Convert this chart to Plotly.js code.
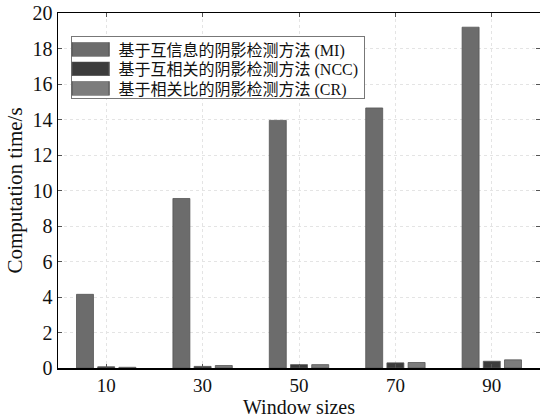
<!DOCTYPE html>
<html>
<head>
<meta charset="utf-8">
<script src="https://cdn.plot.ly/plotly-3.0.1.min.js"></script>
<style>html,body{margin:0;padding:0;background:#fff;}#chart{width:540px;height:418px;}</style>
</head>
<body>
<div id="chart"></div>
<script>
const windowSizes = [10, 30, 50, 70, 90];
const miTimes = [4.15, 9.55, 13.95, 14.65, 19.2];
const nccTimes = [0.07, 0.09, 0.19, 0.29, 0.38];
const crTimes = [0.04, 0.14, 0.19, 0.31, 0.46];
const seriesNames = ['基于互信息的阴影检测方法 (MI)', '基于互相关的阴影检测方法 (NCC)', '基于相关比的阴影检测方法 (CR)'];
const seriesColors = ['#6c6c6c', '#3c3c3c', '#7c7c7c'];
const yTicks = [0, 2, 4, 6, 8, 10, 12, 14, 16, 18, 20];

const font = 'Liberation Serif, Times New Roman, Noto Sans CJK SC, serif';
const data = [miTimes, nccTimes, crTimes].map((vals, i) => ({
  type: 'bar',
  x: windowSizes,
  y: vals,
  name: seriesNames[i],
  marker: {color: seriesColors[i], line: {color: '#555', width: 0.8}}
}));

const layout = {
  width: 540, height: 418,
  margin: {l: 58, r: 0, t: 13, b: 50},
  paper_bgcolor: '#fff', plot_bgcolor: '#fff',
  barmode: 'group', bargap: 0.34, bargroupgap: 0.2,
  font: {family: font, color: '#111', size: 20},
  showlegend: true,
  legend: {
    x: 0.026, y: 0.934, xanchor: 'left', yanchor: 'top',
    bgcolor: '#fff', bordercolor: '#777', borderwidth: 1,
    font: {family: font, size: 16, color: '#111'},
    itemwidth: 37, tracegroupgap: 0
  },
  xaxis: {
    range: [0, 100], tickvals: windowSizes, ticktext: windowSizes.map(String),
    showline: true, linecolor: '#000', linewidth: 1.5, mirror: 'ticks',
    ticks: 'inside', ticklen: 4, tickcolor: '#555',
    showgrid: true, gridcolor: '#e4e4e4', griddash: 'dot', gridwidth: 1,
    zeroline: false,
    tickfont: {size: 19},
    title: {text: 'Window sizes', font: {size: 20}, standoff: 6}
  },
  yaxis: {
    range: [0, 20], tickvals: yTicks,
    showline: true, linecolor: '#000', linewidth: 1.5, mirror: 'ticks',
    ticks: 'inside', ticklen: 4, tickcolor: '#555',
    showgrid: true, gridcolor: '#e4e4e4', griddash: 'dot', gridwidth: 1,
    zeroline: false,
    tickfont: {size: 20},
    title: {text: 'Computation time/s', font: {size: 21}, standoff: 4}
  }
};
Plotly.newPlot('chart', data, layout, {displayModeBar: false, staticPlot: true}).then(gd => {
  // widen legend swatches to match the reference's long rectangles
  gd.querySelectorAll('.legend .legendpoints path').forEach(p => {
    p.setAttribute('transform', 'translate(19,0) scale(3.1,1.15)');
    p.style.strokeWidth = '0.4px';
  });
  // tighten legend row spacing to ~20px as in the reference
  const rows = Array.from(gd.querySelectorAll('.legend g.traces'));
  if (rows.length) {
    const parse = t => {
      const m = /translate\(\s*([-\d.]+)[ ,]+([-\d.]+)\s*\)/.exec(t || '');
      return m ? [parseFloat(m[1]), parseFloat(m[2])] : [0, 0];
    };
    const pos = rows.map(r => parse(r.getAttribute('transform')));
    const step = 19.5;
    const y0 = pos[0][1] - 5;
    rows.forEach((r, i) => r.setAttribute('transform', `translate(${pos[i][0]},${y0 + i * step})`));
    const bg = gd.querySelector('.legend rect.bg');
    if (bg) bg.setAttribute('height', 62);
  }
});
</script>
</body>
</html>
